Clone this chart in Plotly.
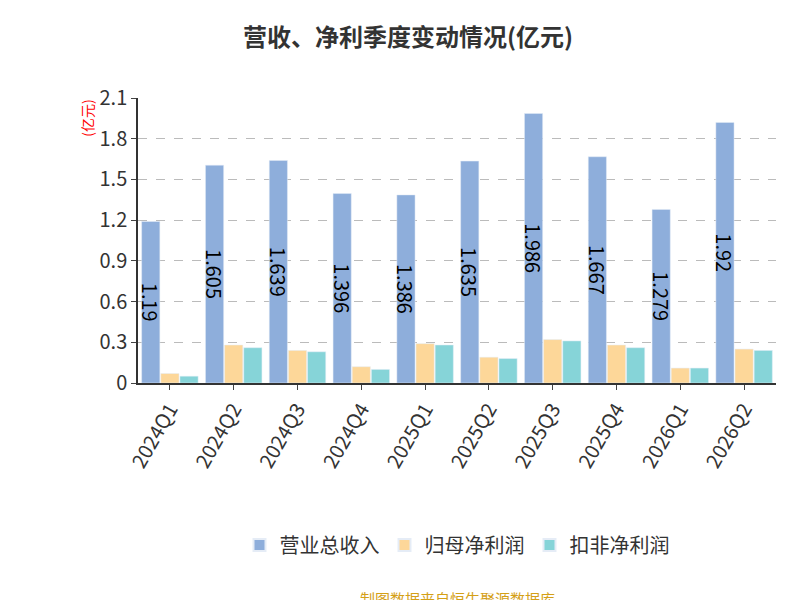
import plotly.graph_objects as go

quarters = ["2024Q1", "2024Q2", "2024Q3", "2024Q4", "2025Q1",
            "2025Q2", "2025Q3", "2025Q4", "2026Q1", "2026Q2"]
revenue = [1.19, 1.605, 1.639, 1.396, 1.386, 1.635, 1.986, 1.667, 1.279, 1.92]
net_profit = [0.07, 0.28, 0.24, 0.12, 0.29, 0.19, 0.32, 0.28, 0.11, 0.25]
net_profit_adj = [0.05, 0.26, 0.23, 0.10, 0.28, 0.18, 0.31, 0.26, 0.11, 0.24]
y_ticks = [0, 0.3, 0.6, 0.9, 1.2, 1.5, 1.8, 2.1]

font = "Noto Sans CJK SC"

fig = go.Figure()
fig.add_bar(x=quarters, y=revenue, name="营业总收入", marker_color="#8eaedb",
            text=[f"{v:g}" for v in revenue], textposition="inside",
            insidetextanchor="middle", constraintext="none",
            textfont=dict(size=20, color="black", family=font))
fig.add_bar(x=quarters, y=net_profit, name="归母净利润", marker_color="#fdd799")
fig.add_bar(x=quarters, y=net_profit_adj, name="扣非净利润", marker_color="#86d4d8")

fig.update_layout(
    width=800, height=600,
    plot_bgcolor="white", paper_bgcolor="white",
    font=dict(family=font, color="#333"),
    title=dict(text="<b>营收、净利季度变动情况(亿元)</b>", x=0.5, y=0.965,
               xanchor="center", font=dict(size=24, color="#333")),
    margin=dict(l=130, r=32, t=90, b=225),
    bargap=0.1, bargroupgap=0.05,
    legend=dict(orientation="h", x=0.5, xanchor="center", y=-0.5, yanchor="top",
                font=dict(size=20), itemsizing="constant"),
    annotations=[
        dict(text="制图数据来自恒生聚源数据库", x=0.5, xref="paper", xanchor="center",
             y=-0.755, yref="paper", yanchor="middle", showarrow=False,
             font=dict(size=15, color="#d4a017")),
        dict(text="(亿元)", textangle=-90, x=-0.1, xref="paper", y=1.0, yref="paper",
             yanchor="top", showarrow=False, font=dict(size=14, color="red")),
    ],
)
fig.update_xaxes(showline=True, linecolor="#333", linewidth=1.5, ticks="outside",
                 tickangle=-60, tickfont=dict(size=20, color="#333"))
fig.update_yaxes(range=[0, 2.1], tickvals=y_ticks,
                 ticktext=["0", "0.3", "0.6", "0.9", "1.2", "1.5", "1.8", "2.1"],
                 showgrid=True, gridcolor="#bbb", griddash="dash",
                 showline=True, linecolor="#333", linewidth=1.5, ticks="outside",
                 zeroline=False, tickfont=dict(size=20, color="#333"))

fig.write_html("out.html")
